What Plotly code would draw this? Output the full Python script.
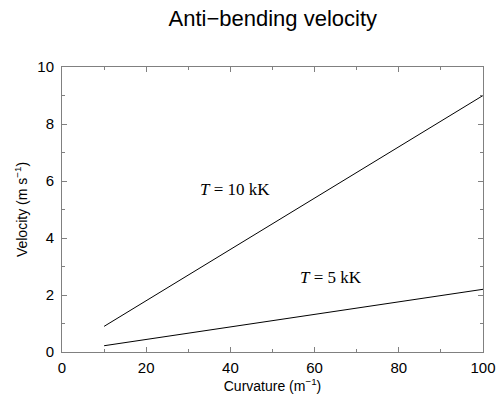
import plotly.graph_objects as go

curvature = [10, 20, 30, 40, 50, 60, 70, 80, 90, 100]
vel_10kK = [0.9, 1.8, 2.7, 3.6, 4.5, 5.4, 6.3, 7.2, 8.1, 9.0]
vel_5kK = [0.22, 0.44, 0.66, 0.88, 1.1, 1.32, 1.54, 1.76, 1.98, 2.2]

fig = go.Figure()
for v in (vel_10kK, vel_5kK):
    fig.add_trace(go.Scatter(x=curvature, y=v, mode="lines",
                             line=dict(color="black", width=1), showlegend=False))

fig.add_annotation(x=41, y=5.7, text="<i>T</i> = 10 kK", showarrow=False,
                   font=dict(family="Liberation Serif", size=17, color="black"))
fig.add_annotation(x=64, y=2.63, text="<i>T</i> = 5 kK", showarrow=False,
                   font=dict(family="Liberation Serif", size=17, color="black"))

axis_common = dict(showgrid=False, zeroline=False, showline=True, linecolor="#808080",
                   linewidth=1, mirror="allticks", ticks="inside", ticklen=5, automargin=False,
                   tickcolor="#808080", tickfont=dict(size=15, color="black"))
fig.update_xaxes(range=[0, 100], dtick=20, ticklabelstandoff=2,
                 title=dict(text="Curvature (m<sup>−1</sup>)", font=dict(size=14), standoff=2),
                 minor=dict(dtick=10, ticks="inside", ticklen=3, tickcolor="#808080"), **axis_common)
fig.update_yaxes(range=[0, 10], dtick=2, ticklabelstandoff=4,
                 title=dict(text="Velocity (m s<sup>−1</sup>)", font=dict(size=14), standoff=6),
                 minor=dict(dtick=1, ticks="inside", ticklen=3, tickcolor="#808080"), **axis_common)

fig.update_layout(width=496, height=397, margin=dict(l=62, r=13, t=67, b=45),
                  plot_bgcolor="white", paper_bgcolor="white",
                  font=dict(family="Liberation Sans", color="black"),
                  title=dict(text="Anti−bending velocity", x=0.55, xanchor="center", y=0.955, yanchor="middle",
                             font=dict(size=22, color="black")))
fig.write_html("out.html")
